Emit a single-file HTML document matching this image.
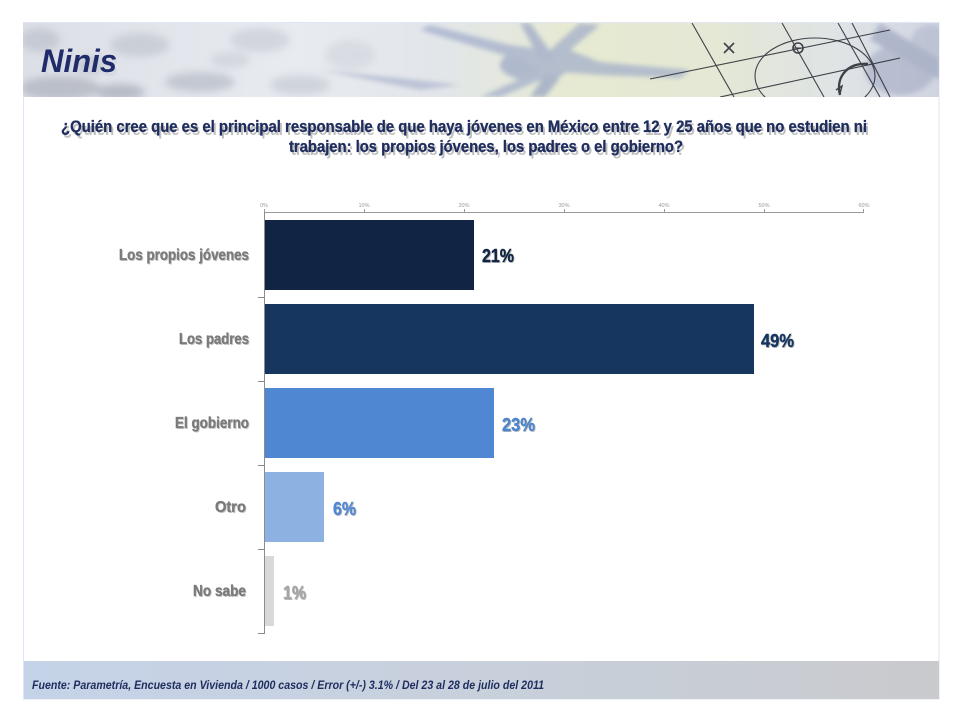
<!DOCTYPE html>
<html>
<head>
<meta charset="utf-8">
<style>
html,body{margin:0;padding:0;background:#fff;}
svg{display:block;}
text{font-family:"Liberation Sans",Arial,sans-serif;}
</style>
</head>
<body>
<svg width="961" height="721" viewBox="0 0 961 721" xmlns="http://www.w3.org/2000/svg">
  <defs>
    <linearGradient id="bannerBg" x1="0" y1="0" x2="1" y2="0">
      <stop offset="0" stop-color="#dcdfe6"/>
      <stop offset="0.3" stop-color="#e8ebf0"/>
      <stop offset="0.45" stop-color="#e2e6ea"/>
      <stop offset="0.6" stop-color="#e6ead2"/>
      <stop offset="0.75" stop-color="#e4e8d4"/>
      <stop offset="0.9" stop-color="#dfe3e6"/>
      <stop offset="1" stop-color="#cfd4e0"/>
    </linearGradient>
    <linearGradient id="footBg" x1="0" y1="0" x2="1" y2="0">
      <stop offset="0" stop-color="#c5d3e8"/>
      <stop offset="0.5" stop-color="#c8d0dc"/>
      <stop offset="1" stop-color="#c9cacd"/>
    </linearGradient>
    <filter id="blur4" x="-20%" y="-50%" width="140%" height="200%"><feGaussianBlur stdDeviation="4"/></filter>
    <filter id="blur2" x="-20%" y="-50%" width="140%" height="200%"><feGaussianBlur stdDeviation="2.5"/></filter>
    <clipPath id="bannerClip"><rect x="23" y="23" width="916" height="74"/></clipPath>
  </defs>

  <!-- frame -->
  <rect x="23.5" y="22.5" width="915.5" height="676.5" fill="#fff" stroke="#e2e5f5" stroke-width="1"/>

  <!-- banner -->
  <g clip-path="url(#bannerClip)">
    <rect x="23" y="23" width="916" height="74" fill="url(#bannerBg)"/>
    <g filter="url(#blur4)" opacity="0.6">
      <ellipse cx="60" cy="88" rx="40" ry="12" fill="#a4a9b4"/>
      <ellipse cx="140" cy="45" rx="30" ry="12" fill="#bcc1cb"/>
      <ellipse cx="200" cy="82" rx="35" ry="10" fill="#aeb3bf"/>
      <ellipse cx="120" cy="92" rx="25" ry="8" fill="#9aa0ad"/>
      <ellipse cx="260" cy="40" rx="30" ry="12" fill="#c4c8d1"/>
      <ellipse cx="300" cy="85" rx="30" ry="10" fill="#c0c5cf"/>
      <ellipse cx="40" cy="40" rx="20" ry="12" fill="#b7bcc7"/>
      <ellipse cx="350" cy="55" rx="25" ry="15" fill="#d0d4dc"/>
      <ellipse cx="90" cy="65" rx="15" ry="8" fill="#b0b5c0"/>
      <ellipse cx="230" cy="60" rx="20" ry="8" fill="#c8ccd4"/>
    </g>
    <g filter="url(#blur2)" opacity="0.65">
      <ellipse cx="535" cy="65" rx="35" ry="16" fill="#93a0c4"/>
      <path d="M420 30 L520 60 L540 70 L480 97 L500 97 L560 72 L600 75 L680 78 L690 70 L600 62 L570 50 L600 25 L580 23 L550 50 L510 45 L430 25 Z" fill="#9aa6c8"/>
      <path d="M540 60 L520 23 L530 23 L555 58 Z" fill="#94a0c6"/>
      <path d="M545 75 L530 97 L545 97 L560 78 Z" fill="#8f9bc1"/>
      <path d="M320 70 L420 90 L460 85 L400 78 Z" fill="#a8b1cb"/>
      <ellipse cx="900" cy="70" rx="35" ry="25" fill="#a7afc6"/>
      <ellipse cx="930" cy="45" rx="20" ry="20" fill="#b3bacd"/>
      <path d="M880 23 L940 60 L940 80 L870 40 Z" fill="#9aa3bd"/>
    </g>
    <g stroke="#2e3038" stroke-width="1.1" fill="none" opacity="0.9">
      <line x1="692" y1="23" x2="734" y2="97"/>
      <line x1="782" y1="23" x2="824" y2="97"/>
      <line x1="838" y1="23" x2="880" y2="97"/>
      <line x1="852" y1="23" x2="890" y2="97"/>
      <line x1="650" y1="79" x2="890" y2="30"/>
      <line x1="720" y1="97" x2="900" y2="58"/>
      <ellipse cx="815" cy="76" rx="60" ry="38"/>
      <circle cx="798" cy="48" r="5" stroke-width="1.6"/>
      <line x1="793" y1="48" x2="803" y2="48"/>
      <path d="M724 43 L734 53 M734 43 L724 53" stroke-width="1.6"/>
      <path d="M840 95 C 835 75, 850 62, 868 64" stroke-width="2.4"/>
      <path d="M836 90 L842 86 L840 94" stroke-width="1.4"/>
    </g>
  </g>

  <!-- Title Ninis -->
  <text x="43" y="76" font-size="32" font-weight="bold" font-style="italic" fill="#d0d5e0" opacity="0.6" textLength="76" lengthAdjust="spacingAndGlyphs">Ninis</text>
  <text x="41" y="72" font-size="32" font-weight="bold" font-style="italic" fill="#1f2b6a" textLength="76" lengthAdjust="spacingAndGlyphs">Ninis</text>

  <!-- Question -->
  <g font-size="16.5" font-weight="bold">
    <text x="63" y="135" fill="#a9a9a9" opacity="0.75" textLength="806" lengthAdjust="spacingAndGlyphs">¿Quién cree que es el principal responsable de que haya jóvenes en México entre 12 y 25 años que no estudien ni</text>
    <text x="291" y="155" fill="#a9a9a9" opacity="0.75" textLength="394" lengthAdjust="spacingAndGlyphs">trabajen: los propios jóvenes, los padres o el gobierno?</text>
    <text x="61" y="132" fill="#1f2d5e" stroke="#1f2d5e" stroke-width="0.3" textLength="806" lengthAdjust="spacingAndGlyphs">¿Quién cree que es el principal responsable de que haya jóvenes en México entre 12 y 25 años que no estudien ni</text>
    <text x="289" y="152" fill="#1f2d5e" stroke="#1f2d5e" stroke-width="0.3" textLength="394" lengthAdjust="spacingAndGlyphs">trabajen: los propios jóvenes, los padres o el gobierno?</text>
  </g>

  <!-- top axis tick labels -->
  <g font-size="5.5" fill="#9a9a9a" text-anchor="middle">
    <text x="264" y="207">0%</text>
    <text x="364" y="207">10%</text>
    <text x="464" y="207">20%</text>
    <text x="564" y="207">30%</text>
    <text x="664" y="207">40%</text>
    <text x="764" y="207">50%</text>
    <text x="864" y="207">60%</text>
  </g>
  <g stroke="#9a9a9a" stroke-width="1">
    <line x1="264" y1="212.5" x2="864" y2="212.5"/>
    <line x1="264.5" y1="209" x2="264.5" y2="212"/>
    <line x1="364.5" y1="209" x2="364.5" y2="212"/>
    <line x1="464.5" y1="209" x2="464.5" y2="212"/>
    <line x1="564.5" y1="209" x2="564.5" y2="212"/>
    <line x1="664.5" y1="209" x2="664.5" y2="212"/>
    <line x1="764.5" y1="209" x2="764.5" y2="212"/>
    <line x1="863.5" y1="209" x2="863.5" y2="212"/>
  </g>
  <g stroke="#8c8c8c" stroke-width="1">
    <line x1="264.5" y1="212" x2="264.5" y2="634"/>
    <line x1="258" y1="297.5" x2="264" y2="297.5"/>
    <line x1="258" y1="381.5" x2="264" y2="381.5"/>
    <line x1="258" y1="465.5" x2="264" y2="465.5"/>
    <line x1="258" y1="549.5" x2="264" y2="549.5"/>
    <line x1="258" y1="633.5" x2="264" y2="633.5"/>
  </g>

  <!-- bars -->
  <rect x="265" y="220" width="209" height="70" fill="#112443"/>
  <rect x="265" y="304" width="489" height="70" fill="#17365f"/>
  <rect x="265" y="388" width="229" height="70" fill="#4f87d2"/>
  <rect x="265" y="472" width="59" height="70" fill="#8db2e2"/>
  <rect x="265" y="556" width="9" height="70" fill="#d9d9d9"/>

  <!-- category labels -->
  <g font-size="16" font-weight="bold" text-anchor="end">
    <g fill="#c4c4c4" transform="translate(1,1)">
      <text x="249" y="260" textLength="130" lengthAdjust="spacingAndGlyphs">Los propios jóvenes</text>
      <text x="249" y="344" textLength="70" lengthAdjust="spacingAndGlyphs">Los padres</text>
      <text x="249" y="428" textLength="74" lengthAdjust="spacingAndGlyphs">El gobierno</text>
      <text x="246" y="512" textLength="31" lengthAdjust="spacingAndGlyphs">Otro</text>
      <text x="246" y="596" textLength="53" lengthAdjust="spacingAndGlyphs">No sabe</text>
    </g>
    <g fill="#7a7a7a" stroke="#7a7a7a" stroke-width="0.35">
      <text x="249" y="260" textLength="130" lengthAdjust="spacingAndGlyphs">Los propios jóvenes</text>
      <text x="249" y="344" textLength="70" lengthAdjust="spacingAndGlyphs">Los padres</text>
      <text x="249" y="428" textLength="74" lengthAdjust="spacingAndGlyphs">El gobierno</text>
      <text x="246" y="512" textLength="31" lengthAdjust="spacingAndGlyphs">Otro</text>
      <text x="246" y="596" textLength="53" lengthAdjust="spacingAndGlyphs">No sabe</text>
    </g>
  </g>

  <!-- value labels -->
  <g font-size="18" font-weight="bold">
    <g fill="#bcbcbc" transform="translate(1,1)">
      <text x="482" y="262" textLength="32" lengthAdjust="spacingAndGlyphs">21%</text>
      <text x="761" y="347" textLength="33" lengthAdjust="spacingAndGlyphs">49%</text>
      <text x="502" y="431" textLength="33" lengthAdjust="spacingAndGlyphs">23%</text>
      <text x="333" y="515" textLength="23" lengthAdjust="spacingAndGlyphs">6%</text>
      <text x="283" y="599" textLength="23" lengthAdjust="spacingAndGlyphs">1%</text>
    </g>
    <text x="482" y="262" fill="#112443" stroke="#112443" stroke-width="0.4" textLength="32" lengthAdjust="spacingAndGlyphs">21%</text>
    <text x="761" y="347" fill="#17365f" stroke="#17365f" stroke-width="0.4" textLength="33" lengthAdjust="spacingAndGlyphs">49%</text>
    <text x="502" y="431" fill="#4f84cc" stroke="#4f84cc" stroke-width="0.4" textLength="33" lengthAdjust="spacingAndGlyphs">23%</text>
    <text x="333" y="515" fill="#5288d2" stroke="#5288d2" stroke-width="0.4" textLength="23" lengthAdjust="spacingAndGlyphs">6%</text>
    <text x="283" y="599" fill="#a6a6a6" stroke="#a6a6a6" stroke-width="0.4" textLength="23" lengthAdjust="spacingAndGlyphs">1%</text>
  </g>

  <!-- footer -->
  <rect x="24" y="661" width="915" height="38" fill="url(#footBg)"/>
  <text x="32" y="689" font-size="11.5" font-weight="bold" font-style="italic" fill="#1f2d5e" textLength="512" lengthAdjust="spacingAndGlyphs">Fuente: Parametría, Encuesta en Vivienda / 1000 casos / Error (+/-) 3.1% / Del 23 al 28 de julio del 2011</text>
</svg>
</body>
</html>
